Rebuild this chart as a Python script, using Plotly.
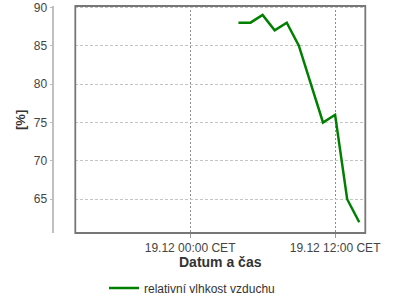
import plotly.graph_objects as go

times = ["2012-12-19 04:00", "2012-12-19 05:00", "2012-12-19 06:00", "2012-12-19 07:00",
         "2012-12-19 08:00", "2012-12-19 09:00", "2012-12-19 10:00", "2012-12-19 11:00",
         "2012-12-19 12:00", "2012-12-19 13:00", "2012-12-19 14:00"]
humidity = [88, 88, 89, 87, 88, 85, 80, 75, 76, 65, 62]
series_name = "relativní vlhkost vzduchu"
x_tick_vals = ["2012-12-19 00:00", "2012-12-19 12:00"]
x_tick_text = ["19.12 00:00 CET", "19.12 12:00 CET"]
y_tick_vals = [65, 70, 75, 80, 85, 90]
x_title = "Datum a čas"
y_title = "[%]"

W, H = 400, 300
fig = go.Figure()
fig.add_trace(go.Scatter(x=times, y=humidity, mode="lines", name=series_name,
                         line=dict(color="#008000", width=2.5)))

font = "Liberation Sans, Arial, sans-serif"
fig.update_layout(
    width=W, height=H,
    margin=dict(l=0, r=0, t=0, b=0, autoexpand=False),
    paper_bgcolor="white", plot_bgcolor="white",
    font=dict(family=font, size=12, color="#444"),
    showlegend=True,
    legend=dict(orientation="h", x=0.5 - 8 / W, xanchor="center", y=1 - 288 / H, yanchor="middle",
                font=dict(size=12, color="#333"), bgcolor="rgba(0,0,0,0)"),
    xaxis=dict(
        domain=[75.3 / W, 365.3 / W],
        type="date", automargin=False,
        range=["2012-12-18 14:30", "2012-12-19 14:30"],
        tickvals=x_tick_vals, ticktext=x_tick_text,
        ticks="outside", ticklen=4, tickcolor="#999",
        showgrid=True, gridcolor="#8c8c8c", griddash="2px,2px", gridwidth=1,
        showline=False, zeroline=False,
        tickfont=dict(size=12, color="#444"),
    ),
    yaxis=dict(
        domain=[1 - 233 / H, 1 - 6 / H],
        anchor="free", position=53.3 / W, automargin=False,
        range=[60.6, 90.17],
        tickvals=y_tick_vals,
        ticks="outside", ticklen=3, tickcolor="#bbb",
        showline=True, linecolor="#c0c0c0", linewidth=1.5,
        showgrid=True, gridcolor="#c4c4c4", griddash="3px,2px", gridwidth=1,
        zeroline=False,
        tickfont=dict(size=12, color="#444"),
    ),
    shapes=[dict(type="rect", xref="x domain", yref="y domain", x0=0, x1=1, y0=0, y1=1,
                 line=dict(color="#777", width=1.8), fillcolor="rgba(0,0,0,0)", layer="above")],
    annotations=[
        dict(text=x_title, xref="paper", yref="paper", x=220 / W, y=1 - 262 / H,
             showarrow=False, xanchor="center", yanchor="middle",
             font=dict(size=14, color="#333", family=font, weight="bold")),
        dict(text=y_title, xref="paper", yref="paper", x=20 / W, y=1 - 120 / H,
             showarrow=False, xanchor="center", yanchor="middle", textangle=-90,
             font=dict(size=13, color="#333", family=font, weight="bold")),
    ],
)

fig.write_html("out.html")
